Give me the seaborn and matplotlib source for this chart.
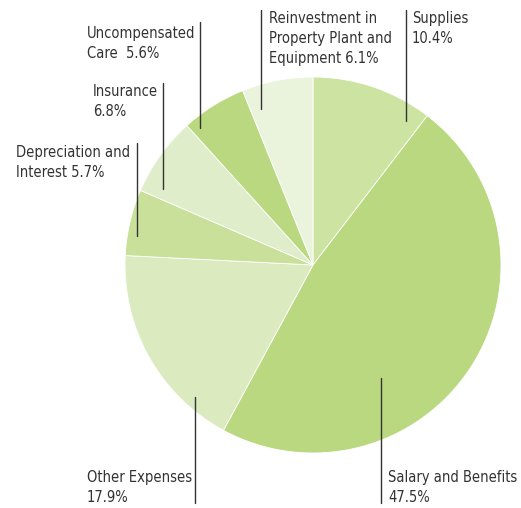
#!/usr/bin/env python
# expense breakdown pie chart

import matplotlib.pyplot as plt
import seaborn as sns

categories = [
    "Supplies",
    "Salary and Benefits",
    "Other Expenses",
    "Depreciation and Interest",
    "Insurance",
    "Uncompensated Care",
    "Reinvestment in Property Plant and Equipment",
]
shares = [10.4, 47.5, 17.9, 5.7, 6.8, 5.6, 6.1]
label_texts = [
    "Supplies\n10.4%",
    "Salary and Benefits\n47.5%",
    "Other Expenses\n17.9%",
    "Depreciation and\nInterest 5.7%",
    "Insurance\n6.8%",
    "Uncompensated\nCare  5.6%",
    "Reinvestment in\nProperty Plant and\nEquipment 6.1%",
]
colors = ["#cde3a1", "#bad87f", "#dbeabf", "#c9e09b", "#e0edca", "#bad87f", "#eaf4dd"]

# label placement in pixel coords (top-left origin): text x, text y, line x, line top, line bottom
placements = [
    (412, 11, 406, 10, 121),
    (388, 470, 381, 378, 503),
    (87, 470, 195, 397, 503),
    (16, 145, 137, 143, 236),
    (93, 84, 163, 83, 189),
    (87, 26, 200, 22, 128),
    (269, 11, 261, 10, 109),
]

W, H = 521, 508


def main():
    sns.set_theme(style="white")
    plt.rcParams["font.family"] = ["DejaVu Sans"]

    fig = plt.figure(figsize=(W / 100, H / 100), dpi=100)
    ax = fig.add_axes([0, 0, 1, 1])

    ax.pie(
        shares,
        colors=sns.color_palette(colors),
        startangle=90,
        counterclock=False,
        center=(313, H - 265),
        radius=188,
        wedgeprops={"linewidth": 0.6, "edgecolor": "white"},
        frame=True,
    )
    ax.set_xlim(0, W)
    ax.set_ylim(0, H)
    ax.set_aspect("equal")
    ax.axis("off")

    for text, (tx, ty, lx, ly0, ly1) in zip(label_texts, placements):
        ax.plot([lx, lx], [H - ly0, H - ly1], color="#333333", lw=1.0)
        ax.text(
            tx, H - ty, text, ha="left", va="top", fontsize=10.5,
            fontstretch="condensed", color="#333333", linespacing=1.4,
        )

    plt.savefig("out.png", dpi=100)
    plt.close()


if __name__ == "__main__":
    main()
